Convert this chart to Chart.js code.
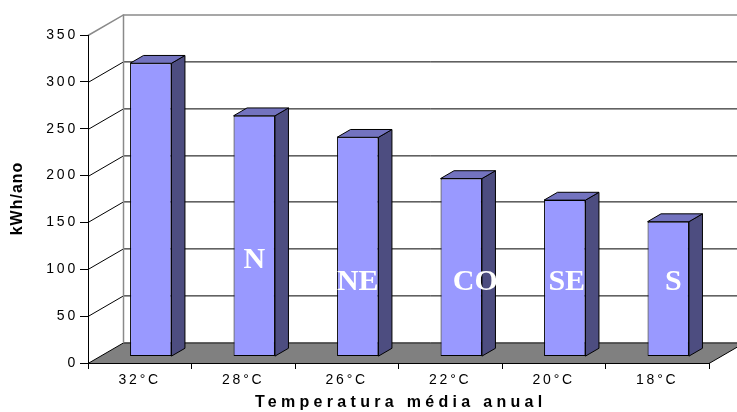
<!DOCTYPE html>
<html>
<head>
<meta charset="utf-8">
<script src="https://cdn.jsdelivr.net/npm/chart.js@4.4.0/dist/chart.umd.min.js"></script>
<style>
  html, body { margin: 0; padding: 0; background: #fff; }
  canvas { display: block; }
</style>
</head>
<body>
<canvas id="consumoChart" width="737" height="412"></canvas>
<script>
const categories = ['32°C', '28°C', '26°C', '22°C', '20°C', '18°C'];
const consumption = [313, 257, 234, 190, 167, 144];
const regionNames = ['', 'N', 'NE', 'CO', 'SE', 'S'];
// height (kWh/ano) where each region name sits on its bar
const regionLabelLevel = [0, 103, 79, 79, 79, 79];

// depth of the 3D box, in pixels
const DEPTH_X = 35.5, DEPTH_Y = -20.6;
const BAR_FRONT = 0.31, BAR_BACK = 0.69;
const SANS = '"Liberation Sans", Arial, sans-serif';

Chart.defaults.font.family = SANS;

const walls = {
    id: 'walls',
    beforeDraw(chart) {
        const ctx = chart.ctx;
        const { left, right, top, bottom } = chart.chartArea;
        const y = chart.scales.y;
        ctx.save();
        ctx.fillStyle = '#fff';
        ctx.fillRect(0, 0, chart.width, chart.height);

        // floor
        ctx.beginPath();
        ctx.moveTo(left, bottom + 0.5);
        ctx.lineTo(right, bottom + 0.5);
        ctx.lineTo(right + DEPTH_X, bottom + 0.5 + DEPTH_Y);
        ctx.lineTo(left + DEPTH_X, bottom + 0.5 + DEPTH_Y);
        ctx.closePath();
        ctx.fillStyle = '#808080';
        ctx.fill();
        ctx.strokeStyle = '#000';
        ctx.lineWidth = 1;
        ctx.stroke();

        // grid on the side wall and back wall
        y.ticks.forEach(t => {
            if (t.value === 0) return;
            const py = Math.round(y.getPixelForValue(t.value)) + 0.5;
            const isTop = t.value === y.max;
            ctx.strokeStyle = isTop ? '#8a8a8a' : '#000';
            ctx.lineWidth = isTop ? 1.5 : 1;
            ctx.beginPath();
            ctx.moveTo(left, py);
            ctx.lineTo(left + DEPTH_X, py + DEPTH_Y);
            ctx.lineTo(right + DEPTH_X + 5, py + DEPTH_Y);
            ctx.stroke();
        });

        // back wall left edge
        ctx.strokeStyle = '#8a8a8a';
        ctx.lineWidth = 1.5;
        ctx.beginPath();
        ctx.moveTo(left + DEPTH_X, top + DEPTH_Y);
        ctx.lineTo(left + DEPTH_X, bottom + DEPTH_Y);
        ctx.stroke();
        ctx.restore();

        // spaced-out tick labels
        ctx.letterSpacing = '2.8px';
    }
};

const bars3d = {
    id: 'bars3d',
    beforeDatasetsDraw(chart) {
        const ctx = chart.ctx;
        const meta = chart.getDatasetMeta(0);
        const fx = BAR_FRONT * DEPTH_X, fy = BAR_FRONT * DEPTH_Y;
        const dx = (BAR_BACK - BAR_FRONT) * DEPTH_X, dy = (BAR_BACK - BAR_FRONT) * DEPTH_Y;
        ctx.save();
        ctx.strokeStyle = '#000';
        ctx.lineWidth = 1;
        ctx.lineJoin = 'round';
        meta.data.forEach(bar => {
            const { x, y, base, width } = bar.getProps(['x', 'y', 'base', 'width'], true);
            const xl = x - width / 2 + fx, xr = x + width / 2 + fx;
            const yt = y + fy, yb = base + fy;
            // right side
            ctx.beginPath();
            ctx.moveTo(xr, yt);
            ctx.lineTo(xr + dx, yt + dy);
            ctx.lineTo(xr + dx, yb + dy);
            ctx.lineTo(xr, yb);
            ctx.closePath();
            ctx.fillStyle = '#4D4D80';
            ctx.fill();
            ctx.stroke();
            // top
            ctx.beginPath();
            ctx.moveTo(xl, yt);
            ctx.lineTo(xr, yt);
            ctx.lineTo(xr + dx, yt + dy);
            ctx.lineTo(xl + dx, yt + dy);
            ctx.closePath();
            ctx.fillStyle = '#7373BF';
            ctx.fill();
            ctx.stroke();
        });
        ctx.restore();
        // front faces are drawn by chart.js, pushed back into the box
        ctx.save();
        ctx.translate(fx, fy);
    },
    afterDatasetsDraw(chart) {
        const ctx = chart.ctx;
        ctx.restore();
        const meta = chart.getDatasetMeta(0);
        const y = chart.scales.y;
        const nudge = [0, 0, 0, 14, 2, 5];
        ctx.save();
        ctx.letterSpacing = '0px';
        ctx.font = 'bold 30px "Liberation Serif", "Times New Roman", serif';
        ctx.fillStyle = '#fff';
        ctx.textAlign = 'center';
        ctx.textBaseline = 'middle';
        regionNames.forEach((name, i) => {
            if (!name) return;
            const bar = meta.data[i];
            ctx.fillText(name, bar.x + BAR_FRONT * DEPTH_X + nudge[i],
                y.getPixelForValue(regionLabelLevel[i]) + BAR_FRONT * DEPTH_Y);
        });
        ctx.restore();
    },
    afterDraw(chart) {
        const ctx = chart.ctx;
        const { left, right, top, bottom } = chart.chartArea;
        ctx.save();
        ctx.fillStyle = '#000';
        ctx.textAlign = 'center';
        ctx.textBaseline = 'middle';

        ctx.font = 'bold 16px ' + SANS;
        ctx.letterSpacing = '4.3px';
        ctx.fillText('Temperatura média anual', (left + right) / 2 + 2.2, 403);

        ctx.translate(17.5, (top + bottom) / 2);
        ctx.rotate(-Math.PI / 2);
        ctx.font = 'bold 16px ' + SANS;
        ctx.letterSpacing = '1px';
        ctx.fillText('kWh/ano', 0.5, 0);
        ctx.restore();
    }
};

const ctx = document.getElementById('consumoChart').getContext('2d');
new Chart(ctx, {
    type: 'bar',
    data: {
        labels: categories,
        datasets: [{
            label: 'kWh/ano',
            data: consumption,
            backgroundColor: '#9999FF',
            borderColor: '#000',
            borderWidth: 1,
            borderSkipped: false,
            barPercentage: 0.4,
            categoryPercentage: 1
        }]
    },
    options: {
        responsive: false,
        animation: false,
        layout: { padding: { top: 35, right: 28, left: 0, bottom: 0 } },
        plugins: {
            legend: { display: false },
            tooltip: { enabled: false }
        },
        scales: {
            x: {
                grid: { drawOnChartArea: false, color: '#000', tickLength: 6, offset: true },
                border: { color: '#000' },
                ticks: { color: '#000', font: { size: 14 }, padding: 3, maxRotation: 0 },
                afterFit(s) { s.height = 49; }
            },
            y: {
                min: 0,
                max: 350,
                grid: { drawOnChartArea: false, color: '#000', tickLength: 8 },
                border: { color: '#000' },
                ticks: { stepSize: 50, color: '#000', font: { size: 14 }, padding: 2 },
                afterFit(s) { s.width = 88; }
            }
        }
    },
    plugins: [walls, bars3d]
});
</script>
</body>
</html>
